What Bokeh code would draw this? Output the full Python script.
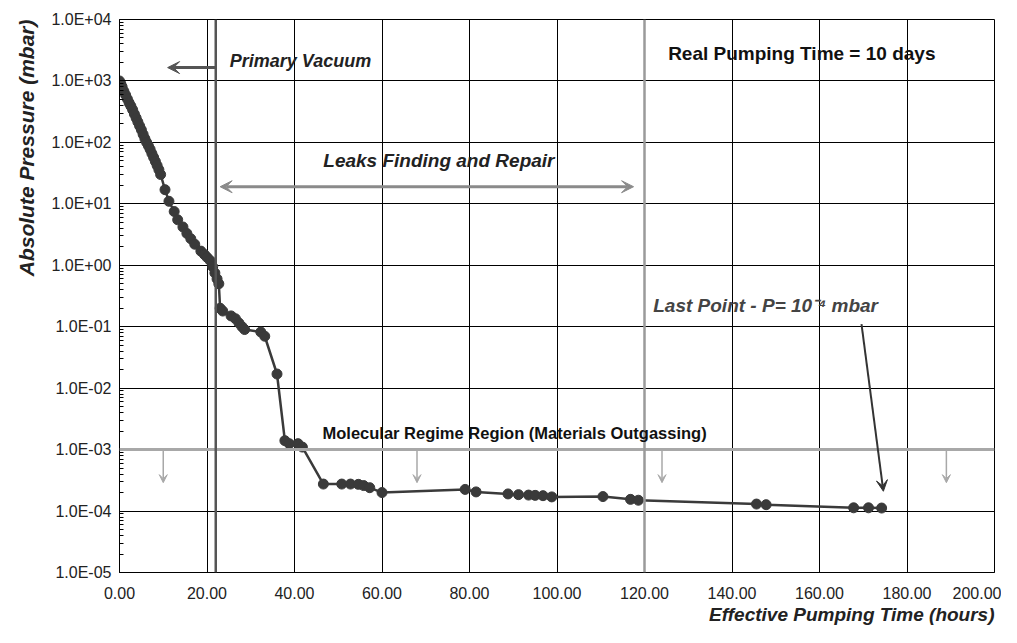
from bokeh.plotting import figure
from bokeh.models import (Span, Arrow, VeeHead, Label, Title, FixedTicker,
                          CustomJSTickFormatter, NumeralTickFormatter)
from bokeh.embed import file_html
from bokeh.resources import INLINE

# ---- data -------------------------------------------------------------
time_h = [0.0, 0.3, 0.6, 1.0, 1.4, 1.8, 2.2, 2.6, 3.0, 3.4, 3.8, 4.2, 4.6,
          5.0, 5.4, 5.8, 6.2, 6.6, 7.0, 7.4, 7.8, 8.2, 8.6, 9.0, 9.4, 10.4,
          11.3, 12.5, 13.3, 14.5, 15.4, 16.3, 17.2, 18.6, 19.4, 20.0, 20.7,
          21.3, 21.8, 22.3, 22.7, 23.0, 23.6, 25.5, 26.5, 27.3, 28.0, 28.6,
          32.3, 33.2, 36.0, 37.8, 38.8, 40.8, 41.8, 46.6, 50.8, 52.8, 54.6,
          55.8, 57.2, 60.0, 79.0, 81.5, 88.8, 91.2, 93.5, 95.0, 96.8, 98.8,
          110.5, 116.8, 118.6, 145.6, 147.8, 167.8, 171.2, 174.2]
pressure_mbar = [1000, 900, 800, 680, 590, 510, 440, 390, 340, 290, 250, 215,
                 185, 160, 135, 115, 100, 88, 77, 66, 57, 49, 42, 36, 30, 17,
                 11, 7.5, 5.5, 4.2, 3.3, 2.7, 2.2, 1.7, 1.5, 1.35, 1.2, 0.95,
                 0.75, 0.6, 0.5, 0.2, 0.18, 0.15, 0.135, 0.115, 0.1, 0.09,
                 0.082, 0.07, 0.017, 0.0014, 0.00125, 0.00125, 0.0011,
                 2.75e-4, 2.75e-4, 2.75e-4, 2.72e-4, 2.6e-4, 2.4e-4, 2.0e-4,
                 2.25e-4, 2.05e-4, 1.9e-4, 1.85e-4, 1.82e-4, 1.8e-4, 1.78e-4,
                 1.7e-4, 1.72e-4, 1.55e-4, 1.5e-4, 1.3e-4, 1.27e-4, 1.13e-4,
                 1.13e-4, 1.12e-4]

x_ticks = [0, 20, 40, 60, 80, 100, 120, 140, 160, 180, 200]
y_ticks = [1e-5, 1e-4, 1e-3, 1e-2, 1e-1, 1e0, 1e1, 1e2, 1e3, 1e4]
y_tick_labels = ["1.0E-05", "1.0E-04", "1.0E-03", "1.0E-02", "1.0E-01",
                 "1.0E+00", "1.0E+01", "1.0E+02", "1.0E+03", "1.0E+04"]
y_minor = [m * d for d in y_ticks[:-1] for m in range(2, 10)]

primary_limit_h = 22.0
leak_end_h = 120.0
molecular_p = 1e-3
down_arrow_x = [10, 68, 124, 189]

FONT = "Liberation Sans"
DARK = "#3a3a3a"

p = figure(width=1001, height=627, y_axis_type="log",
           x_range=(0, 200), y_range=(1e-5, 1e4),
           output_backend="svg", toolbar_location=None,
           min_border_left=119, min_border_right=7,
           min_border_top=19, min_border_bottom=55)
p.background_fill_color = "white"
p.outline_line_color = "black"
p.outline_line_width = 1

# grids
p.xgrid.grid_line_color = "black"
p.ygrid.grid_line_color = "black"
p.xgrid.grid_line_width = 1
p.ygrid.grid_line_width = 1

# axes
p.xaxis.ticker = FixedTicker(ticks=x_ticks)
p.xaxis.formatter = NumeralTickFormatter(format="0.00")
p.yaxis.ticker = FixedTicker(ticks=y_ticks, minor_ticks=y_minor)
p.yaxis.formatter = CustomJSTickFormatter(
    args=dict(vals=y_ticks, labels=y_tick_labels),
    code="""
    let best = 0, bd = 1e9;
    for (let i = 0; i < vals.length; i++) {
        const d = Math.abs(Math.log10(vals[i]) - Math.log10(tick));
        if (d < bd) { bd = d; best = i; }
    }
    return labels[best];
""")
for ax in (p.xaxis[0], p.yaxis[0]):
    ax.axis_line_color = "black"
    ax.major_label_text_font = FONT
    ax.major_label_text_font_size = "16px"
    ax.major_label_text_color = "#222222"
    ax.major_tick_line_color = "black"
    ax.minor_tick_line_color = "black"
p.xaxis.major_tick_in = 0
p.xaxis.major_tick_out = 0
p.xaxis.minor_tick_in = 0
p.xaxis.minor_tick_out = 0
p.xaxis.major_label_standoff = 14
p.yaxis.major_tick_in = 6
p.yaxis.major_tick_out = 0
p.yaxis.minor_tick_in = 4
p.yaxis.minor_tick_out = 0
p.yaxis.major_label_standoff = 8

# axis titles
p.add_layout(Title(text="Absolute Pressure (mbar)", align="right",
                   text_font=FONT, text_font_style="bold italic",
                   text_font_size="21px", text_color="#222222",
                   offset=0, standoff=22), "left")
p.add_layout(Title(text="Effective Pumping Time (hours)", align="right",
                   text_font=FONT, text_font_style="bold italic",
                   text_font_size="19px", text_color="#222222",
                   standoff=0), "below")

# reference lines
p.add_layout(Span(location=molecular_p, dimension="width",
                  line_color="#a8a8a8", line_width=3))
p.add_layout(Span(location=leak_end_h, dimension="height",
                  line_color="#9a9a9a", line_width=2.5))
p.add_layout(Span(location=primary_limit_h, dimension="height",
                  line_color="#555555", line_width=2.5))

for xa in down_arrow_x:
    p.add_layout(Arrow(end=VeeHead(size=8, line_color="#a8a8a8",
                                   fill_color="#a8a8a8", line_width=1),
                       x_start=xa, y_start=molecular_p, x_end=xa, y_end=2.9e-4,
                       line_color="#a8a8a8", line_width=1.5))

# data
p.line(time_h, pressure_mbar, line_color=DARK, line_width=2.5)
p.scatter(time_h, pressure_mbar, size=10, fill_color=DARK, line_color=DARK)

# annotations
p.add_layout(Arrow(end=VeeHead(size=12, line_color="#555555",
                               fill_color="#555555", line_width=1),
                   x_start=primary_limit_h, y_start=1.65e3, x_end=11, y_end=1.65e3,
                   line_color="#555555", line_width=3))
p.add_layout(Label(x=25.2, y=2.1e3, text="Primary Vacuum", text_font=FONT,
                   text_font_style="bold italic", text_font_size="18px",
                   text_color="#222222", text_baseline="middle"))

p.add_layout(Arrow(start=VeeHead(size=12, line_color="#8a8a8a",
                                 fill_color="#8a8a8a", line_width=1),
                   end=VeeHead(size=12, line_color="#8a8a8a",
                               fill_color="#8a8a8a", line_width=1),
                   x_start=23.0, y_start=19, x_end=117.5, y_end=19,
                   line_color="#8a8a8a", line_width=3))
p.add_layout(Label(x=73, y=50, text="Leaks Finding and Repair", text_font=FONT,
                   text_font_style="bold italic", text_font_size="19px",
                   text_color="#222222", text_align="center",
                   text_baseline="middle"))

p.add_layout(Label(x=125.4, y=2.8e3, text="Real Pumping Time = 10 days",
                   text_font=FONT, text_font_style="bold",
                   text_font_size="19px", text_color="#111111",
                   text_baseline="middle"))

p.add_layout(Label(x=46.4, y=1.86e-3,
                   text="Molecular Regime Region (Materials Outgassing)",
                   text_font=FONT, text_font_style="bold",
                   text_font_size="16.5px", text_color="#111111",
                   text_baseline="middle"))

p.add_layout(Label(x=122, y=0.22, text="Last Point - P= 10\u207b\u2074 mbar",
                   text_font=FONT, text_font_style="bold italic",
                   text_font_size="19px", text_color="#444444",
                   text_baseline="middle"))
p.add_layout(Arrow(end=VeeHead(size=11, line_color="#333333",
                               fill_color="#333333", line_width=1),
                   x_start=169.6, y_start=0.11, x_end=174.6, y_end=2.1e-4,
                   line_color="#333333", line_width=2))

open("out.html", "w").write(file_html(p, INLINE))
